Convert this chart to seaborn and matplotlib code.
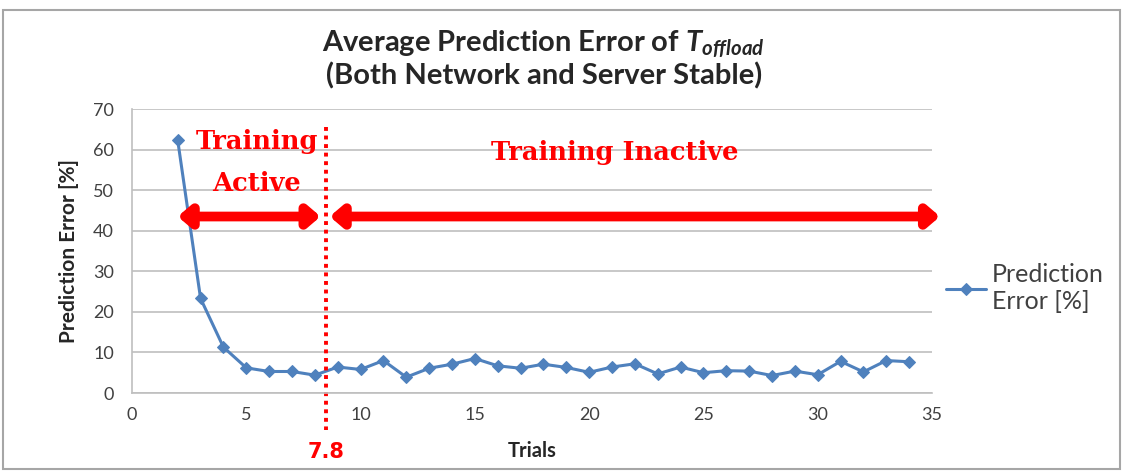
import matplotlib
matplotlib.use("Agg")
import matplotlib.pyplot as plt
import seaborn as sns
import pandas as pd
from matplotlib.patches import Rectangle

trials = list(range(2, 35))
errors = [62.3, 23.3, 11.3, 6.2, 5.3, 5.3, 4.4, 6.4, 5.8, 8.0, 3.9, 6.1, 7.1, 8.5,
          6.7, 6.1, 7.1, 6.3, 5.1, 6.4, 7.2, 4.7, 6.4, 5.0, 5.5, 5.4, 4.3, 5.4,
          4.5, 7.8, 5.2, 8.0, 7.7]
series_label = "Prediction\nError [%]"
xticks = [0, 5, 10, 15, 20, 25, 30, 35]
yticks = [0, 10, 20, 30, 40, 50, 60, 70]
boundary_x = 8.5
boundary_label = "7.8"

sns.set_style("white")
plt.rcParams['font.family'] = ['Lato', 'DejaVu Sans']
plt.rcParams['mathtext.fontset'] = 'custom'
plt.rcParams['mathtext.it'] = 'Lato:bold:italic'
plt.rcParams['mathtext.rm'] = 'Lato:bold'

df = pd.DataFrame({"Trials": trials, "Error": errors})

fig = plt.figure(figsize=(11.34, 4.71), dpi=100)
ax = fig.add_axes([132/1134, 1-393/471, 800/1134, 284/471])

blue = "#4F81BD"
sns.lineplot(data=df, x="Trials", y="Error", ax=ax, color=blue, lw=2.2,
             marker="D", markersize=6.5, markeredgecolor=blue, label=series_label)

ax.set_xlim(0, 35)
ax.set_ylim(0, 70)
ax.set_xticks(xticks)
ax.set_yticks(yticks)
ax.yaxis.grid(True, color="#BFBFBF", lw=1.2)
ax.set_axisbelow(True)
for s in ["top", "right"]:
    ax.spines[s].set_visible(False)
for s in ["left", "bottom"]:
    ax.spines[s].set_color("#BFBFBF")
    ax.spines[s].set_linewidth(1.2)
ax.tick_params(axis="both", direction="out", length=5, color="#BFBFBF",
               labelsize=13, labelcolor="#404040", width=1.2)
ax.tick_params(axis="x", pad=5)
ax.tick_params(axis="y", pad=8)

ax.set_xlabel("Trials", fontsize=14.5, fontweight="bold", labelpad=13)
ax.set_ylabel("Prediction Error [%]", fontsize=15, fontweight="bold", labelpad=10)

red = "#FF0000"
# dotted boundary line
ax.plot([boundary_x, boundary_x], [65.5, -9.2], linestyle=(0, (1, 1.2)), lw=2.8,
        color=red, clip_on=False)
ax.text(boundary_x, -14.5, boundary_label, color=red, fontsize=15, fontweight="bold",
        ha="center", va="center", family=["DejaVu Sans"])

# arrows
ax.annotate("", xy=(2.0, 43.5), xytext=(8.25, 43.5), annotation_clip=False,
            arrowprops=dict(arrowstyle="<|-|>,head_length=0.7,head_width=0.6",
                            lw=7, color=red, shrinkA=0, shrinkB=0))
ax.annotate("", xy=(8.65, 43.5), xytext=(35.35, 43.5), annotation_clip=False,
            arrowprops=dict(arrowstyle="<|-|>,head_length=0.7,head_width=0.6",
                            lw=7, color=red, shrinkA=0, shrinkB=0))

serif = ["DejaVu Serif"]
ax.text(5.45, 62.0, "Training", color=red, fontsize=18.5, fontweight="bold",
        ha="center", va="center", family=serif)
ax.text(5.45, 51.7, "Active", color=red, fontsize=18.5, fontweight="bold",
        ha="center", va="center", family=serif)
ax.text(21.1, 59.2, "Training Inactive", color=red, fontsize=18.5, fontweight="bold",
        ha="center", va="center", family=serif)

# title
fig.text(0.4795, 1-44/471, "Average Prediction Error of $T_{offload}$", fontsize=21,
         fontweight="bold", ha="center", va="center")
fig.text(0.4795, 1-76/471, "(Both Network and Server Stable)", fontsize=21,
         fontweight="bold", ha="center", va="center")

leg = ax.legend(loc="center left", bbox_to_anchor=(936/1134, 1-288/471),
                bbox_transform=fig.transFigure, frameon=False, fontsize=18,
                handlelength=1.6, handletextpad=0.25, borderaxespad=0,
                labelspacing=0.2)
for t in leg.get_texts():
    t.set_color("#404040")
    t.set_linespacing(1.25)

fig.patches.append(Rectangle((3/1134, 1-469/471), 1117/1134, 459/471,
                             transform=fig.transFigure, fill=False,
                             edgecolor="#A6A6A6", lw=1.5))

fig.savefig("out.png", dpi=100)
